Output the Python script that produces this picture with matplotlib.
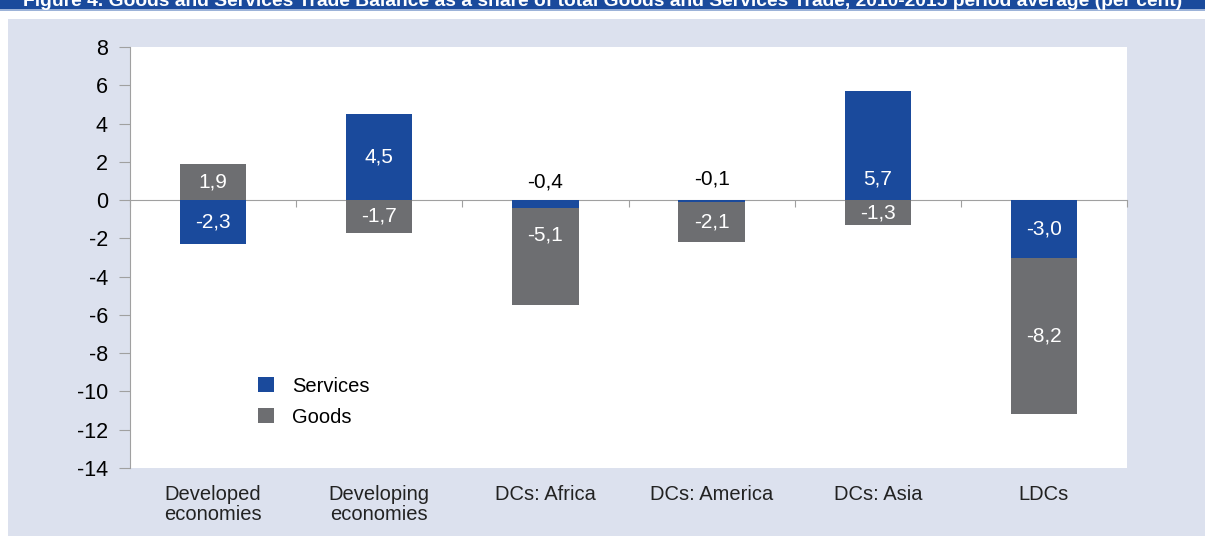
import numpy as np
import matplotlib
matplotlib.use('Agg')
import matplotlib.pyplot as plt
from matplotlib.patches import Rectangle

plt.rcParams['font.family'] = ['Liberation Sans', 'DejaVu Sans']

categories = ['Developed\neconomies', 'Developing\neconomies', 'DCs: Africa',
              'DCs: America', 'DCs: Asia', 'LDCs']
services = [-2.3, 4.5, -0.4, -0.1, 5.7, -3.0]
goods = [1.9, -1.7, -5.1, -2.1, -1.3, -8.2]
services_lbl = ['-2,3', '4,5', '-0,4', '-0,1', '5,7', '-3,0']
goods_lbl = ['1,9', '-1,7', '-5,1', '-2,1', '-1,3', '-8,2']

title = ('Figure 4. Goods and Services Trade Balance as a share of total Goods and '
         'Services Trade, 2010-2015 period average (per cent)')

blue = '#1A4A9C'
grey = '#6D6E71'
panel = '#DCE1EE'
axcol = '#A0A0A0'

fig = plt.figure(figsize=(12.05, 5.36), dpi=100)
fig.patch.set_facecolor('white')

# background panel and header strip
fig.patches.append(Rectangle((8/1205, 0), 1, 1 - 19/536, transform=fig.transFigure,
                             facecolor=panel, edgecolor='none', zorder=-5))
fig.patches.append(Rectangle((0, 1 - 9/536), 1, 9/536, transform=fig.transFigure,
                             facecolor=blue, edgecolor='none', zorder=-5))
fig.patches.append(Rectangle((0, 1 - 11/536), 1, 2/536, transform=fig.transFigure,
                             facecolor='#9DB3D8', edgecolor='none', zorder=-5))
# header title is cut off at the top edge, as in the source figure
fig.text(0.5, 1 - 1/536, title, color='white', fontweight='bold', fontsize=13.9,
         ha='center', va='center', zorder=-4)

ax = fig.add_axes([130/1205, 1 - 468/536, 997/1205, 421/536])
ax.set_facecolor('white')
ax.set_zorder(2)

x = np.arange(len(categories))
w = 0.4
s = np.array(services)
g = np.array(goods)

# stacking: negatives below negatives, positives above positives
s_bottom = np.zeros(len(s))
g_bottom = np.where((g < 0) & (s < 0), s, 0.0)
g_bottom = np.where((g > 0) & (s > 0), s, g_bottom)

ax.bar(x, s, w, bottom=s_bottom, color=blue, label='Services', zorder=2)
ax.bar(x, g, w, bottom=g_bottom, color=grey, label='Goods', zorder=2)

for i in range(len(x)):
    if abs(s[i]) < 1:
        ax.text(x[i], 0.45 + 0.15 * (i == 3), services_lbl[i], ha='center', va='bottom',
                fontsize=15, color='black', zorder=3)
    else:
        yc = s[i] / 2
        if i == 4:
            yc = 1.1
        ax.text(x[i], yc, services_lbl[i], ha='center', va='center',
                fontsize=15, color='white', zorder=3)
    yc = g_bottom[i] + g[i] / 2
    if i == 2:
        yc = -1.8
    ax.text(x[i], yc, goods_lbl[i], ha='center', va='center',
            fontsize=15, color='white', zorder=3)

ax.set_xlim(-0.5, 5.5)
ax.set_ylim(-14, 8)
ax.set_yticks(np.arange(-14, 9, 2))
ax.set_yticklabels([str(v) for v in range(-14, 9, 2)])
ax.tick_params(axis='y', labelsize=15.5, color=axcol, length=8, pad=8)

ax.spines['top'].set_visible(False)
ax.spines['right'].set_visible(False)
ax.spines['left'].set_color(axcol)
ax.spines['bottom'].set_position(('data', 0))
ax.spines['bottom'].set_color(axcol)
ax.spines['bottom'].set_zorder(1)
ax.set_xticks(np.arange(-0.5, 6, 1))
ax.set_xticklabels([])
ax.tick_params(axis='x', color=axcol, length=5, direction='out')

for i, c in enumerate(categories):
    ax.text(x[i], -0.04, c, transform=ax.get_xaxis_transform(), ha='center', va='top',
            fontsize=14.5, linespacing=1.05, color='#222222')

ax.legend(loc='upper left', bbox_to_anchor=(0.11, 0.26), frameon=False, fontsize=14.5,
          handlelength=0.8, handleheight=0.8, labelspacing=0.6, handletextpad=0.9)

fig.savefig('out.png', dpi=100)
